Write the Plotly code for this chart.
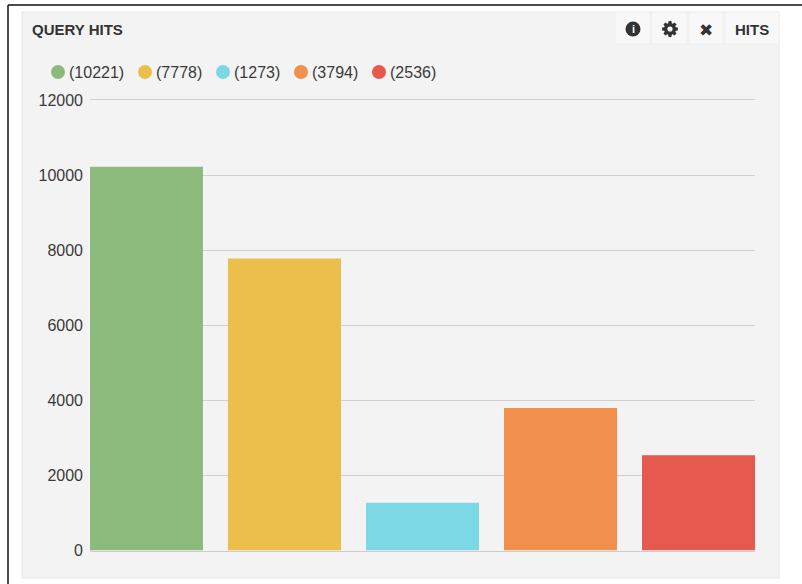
import math
import plotly.graph_objects as go

categories = ["A", "B", "C", "D", "E"]
values = [10221, 7778, 1273, 3794, 2536]
colors = ["#8cba7c", "#ecbf4c", "#7dd8e6", "#f1904c", "#e5594e"]
y_ticks = [0, 2000, 4000, 6000, 8000, 10000, 12000]
title_text = "QUERY HITS"
button_text = "HITS"

W, H = 802, 584
FONT = "Liberation Sans, Arial, sans-serif"
TEXT = "#333333"
BTN = "#f8f8f8"


def px(x):
    return x / W


def py(y):
    return 1 - y / H


def rect(x0, y0, x1, y1, fill, line=None):
    return dict(type="rect", xref="paper", yref="paper", layer="below",
                x0=px(x0), x1=px(x1), y0=py(y0), y1=py(y1), fillcolor=fill,
                line=dict(color=line or fill, width=1 if line else 0))


def seg(x0, y0, x1, y1, color, width):
    return dict(type="line", xref="paper", yref="paper", layer="below",
                x0=px(x0), x1=px(x1), y0=py(y0), y1=py(y1),
                line=dict(color=color, width=width))


def dot(cx, cy, r, color):
    return dict(type="circle", xref="paper", yref="paper", layer="above",
                x0=px(cx - r), x1=px(cx + r), y0=py(cy + r), y1=py(cy - r),
                fillcolor=color, line=dict(width=0))


def gear(cx, cy, outer, inner, teeth, color):
    pts = []
    step = 2 * math.pi / teeth
    for i in range(teeth):
        a = i * step
        for da, r in [(-0.30, inner), (-0.17, outer), (0.17, outer), (0.30, inner)]:
            t = a + da * step * 1.3
            pts.append((px(cx + r * math.cos(t)), py(cy + r * math.sin(t))))
    path = "M " + " L ".join(f"{x:.5f} {y:.5f}" for x, y in pts) + " Z"
    return dict(type="path", xref="paper", yref="paper", layer="above", path=path,
                fillcolor=color, line=dict(width=0))


def label(x, y, text, size, color=TEXT, bold=False, anchor="left", family=FONT):
    return dict(xref="paper", yref="paper", x=px(x), y=py(y), text=f"<b>{text}</b>" if bold else text,
                showarrow=False, xanchor=anchor, yanchor="middle",
                font=dict(size=size, color=color, family=family))


fig = go.Figure(go.Bar(x=categories, y=values, marker=dict(color=colors, line=dict(width=0)),
                       showlegend=False, hoverinfo="y"))

shapes = [
    seg(8, 5, 802, 5, "#111111", 1.5),
    seg(8, 5, 8, 584, "#111111", 1.5),
    rect(22, 12, 779, 578, "#f3f3f3", "#e6e6e6"),
    rect(615, 12, 650, 44, BTN, "#f0f0f0"),
    rect(652, 12, 687, 44, BTN, "#f0f0f0"),
    rect(689, 12, 723, 44, BTN, "#f0f0f0"),
    rect(725, 12, 779, 44, BTN, "#f0f0f0"),
    dot(633, 29, 7.5, TEXT),
    gear(670, 29, 8, 6, 8, TEXT),
    dot(670, 29, 2.6, BTN),
]

annotations = [
    label(30, 30, title_text, 15, bold=True),
    label(752, 30, button_text, 15, bold=True, anchor="center"),
    label(633, 29, "<b>i</b>", 11, color=BTN, anchor="center"),
    label(706, 29.5, "✖", 17, anchor="center", family="DejaVu Sans"),
]

legend_dots = [58, 145, 223, 301, 379]
for cx, value, color in zip(legend_dots, values, colors):
    shapes.append(dot(cx, 72, 7, color))
    annotations.append(label(cx + 8.5, 72, f"({value})", 16, color="#3a3a3a"))

fig.update_layout(
    width=W, height=H, autosize=False,
    margin=dict(l=0, r=0, t=0, b=0),
    paper_bgcolor="white", plot_bgcolor="rgba(0,0,0,0)",
    bargap=0.181,
    shapes=shapes, annotations=annotations,
    font=dict(family=FONT, color="#3a3a3a", size=16),
    xaxis=dict(domain=[px(90), px(755)], range=[-0.409, 4.409], showticklabels=False,
               showgrid=False, zeroline=False, ticks="", fixedrange=True, automargin=False,
               showline=True, linecolor="#cccccc", linewidth=1),
    yaxis=dict(domain=[py(550.5), py(98)], range=[0, 12053], tickvals=y_ticks, tickformat="d",
               showgrid=True, gridcolor="#d0d0d0", gridwidth=1, zeroline=False, automargin=False,
               ticks="", ticklabelstandoff=6, fixedrange=True,
               tickfont=dict(size=16, color="#3a3a3a")),
)

fig.write_html("out.html", config={"displayModeBar": False},
               post_script="document.body.style.margin='0';")
